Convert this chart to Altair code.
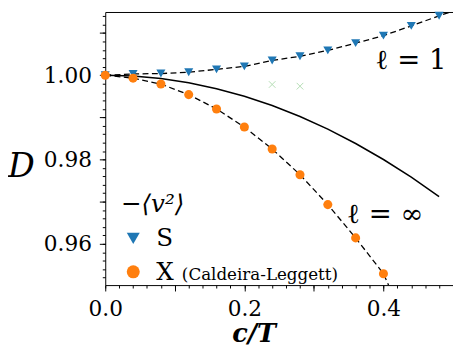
import altair as alt
import pandas as pd

# ---- data ----
S_x = [0.00, 0.04, 0.08, 0.12, 0.16, 0.20, 0.24, 0.28, 0.32, 0.36, 0.40, 0.44, 0.48]
S_y = [1.0000, 1.0003, 1.0004, 1.0007, 1.0014, 1.0021, 1.0035, 1.0045, 1.0059, 1.0076, 1.0094, 1.0117, 1.0141]

X_x = [0.00, 0.04, 0.08, 0.12, 0.16, 0.20, 0.24, 0.28, 0.32, 0.36, 0.40]
X_y = [1.0000, 0.9993, 0.9979, 0.9954, 0.9920, 0.9877, 0.9825, 0.9764, 0.9693, 0.9614, 0.9529]

# dashed fit curves (through the points, continued to the frame edge)
S_fit_x = S_x + [0.50]
S_fit_y = S_y + [1.0152]
X_fit_x = X_x + [0.41]
X_fit_y = X_y + [0.9492]

# solid curve (l = infinity)
L_x = [0.00, 0.04, 0.08, 0.12, 0.16, 0.20, 0.24, 0.28, 0.32, 0.36, 0.40, 0.44, 0.48]
L_y = [1.0000, 0.9998, 0.9992, 0.9982, 0.9968, 0.9950, 0.9928, 0.9902, 0.9872, 0.9838, 0.9800, 0.9758, 0.9712]

# faint green crosses
C_x = [0.24, 0.28]
C_y = [0.9978, 0.9974]

x_major = [0.0, 0.1, 0.2, 0.3, 0.4]
x_minor = [round(i * 0.02, 2) for i in range(26)]
y_major = [0.95, 0.96, 0.97, 0.98, 0.99, 1.00, 1.01]
y_minor = [round(0.950 + i * 0.002, 3) for i in range(33)]

FONT = "DejaVu Serif"

pts = pd.DataFrame({
    "x": S_x + X_x,
    "y": S_y + X_y,
    "series": ["S"] * len(S_x) + ["X"] * len(X_x),
})
fits = pd.DataFrame({
    "x": S_fit_x + X_fit_x,
    "y": S_fit_y + X_fit_y,
    "series": ["S"] * len(S_fit_x) + ["X"] * len(X_fit_x),
})
solid = pd.DataFrame({"x": L_x, "y": L_y})
cross = pd.DataFrame({"x": C_x, "y": C_y})

xs = alt.Scale(domain=[0, 0.5], nice=False, zero=False)
ys = alt.Scale(domain=[0.9502, 1.0150], nice=False, zero=False)

x_main = alt.Axis(
    orient="bottom", values=x_major, tickSize=6,
    labelExpr="abs(datum.value*5 - round(datum.value*5)) < 1e-6 ? format(datum.value, '.1f') : ''",
    labelFont=FONT, labelFontSize=22, labelPadding=8, labelOverlap=False,
    labelFlush=False,
    title="c/T", titleFont=FONT, titleFontSize=26, titleFontStyle="italic",
    titleFontWeight="bold", titleX=151, titleY=49, titleAlign="center",
    titleBaseline="middle", grid=False,
)
y_main = alt.Axis(
    orient="left", values=y_major, tickSize=6,
    labelExpr="abs(datum.value*50 - round(datum.value*50)) < 1e-6 ? format(datum.value, '.2f') : ''",
    labelFont=FONT, labelFontSize=22, labelPadding=8, labelOverlap=False,
    labelFlush=False,
    title="D", titleFont=FONT, titleFontSize=34, titleFontStyle="italic",
    titleFontWeight="normal", titleAngle=0, titleX=-86, titleY=157,
    titleAlign="center", titleBaseline="middle", grid=False,
)
x_min = alt.Axis(orient="bottom", values=x_minor, tickSize=3, labels=False,
                 domain=False, title=None, grid=False)
y_min = alt.Axis(orient="left", values=y_minor, tickSize=3, labels=False,
                 domain=False, title=None, grid=False)
x_top = alt.Axis(orient="top", ticks=False, labels=False, domain=True,
                 title=None, grid=False)

fit_layer = alt.Chart(fits).mark_line(
    color="black", strokeWidth=1.3, strokeDash=[6, 3.5], clip=True
).encode(
    x=alt.X("x:Q", scale=xs, axis=x_min),
    y=alt.Y("y:Q", scale=ys, axis=y_min),
    detail="series:N",
)

solid_layer = alt.Chart(solid).mark_line(
    color="black", strokeWidth=1.5, clip=True
).encode(
    x=alt.X("x:Q", scale=xs, axis=x_top),
    y=alt.Y("y:Q", scale=ys, axis=None),
)

cross_layer = alt.Chart(cross).mark_point(
    shape="M-1,-1L1,1M-1,1L1,-1", filled=False, size=45, strokeWidth=1,
    color="#2ca02c", opacity=0.35
).encode(
    x=alt.X("x:Q", scale=xs, axis=None),
    y=alt.Y("y:Q", scale=ys, axis=None),
)

leg = alt.Legend(
    title="−⟨v²⟩", orient="none", legendX=16, legendY=184,
    titleFont=FONT, titleFontSize=25, titleFontWeight="normal",
    titleFontStyle="italic", titlePadding=9,
    labelFont=FONT, labelFontSize=25, labelOffset=11,
    symbolSize=175, symbolStrokeWidth=0, rowPadding=8,
    padding=0,
)

pt_layer = alt.Chart(pts).mark_point(filled=True, opacity=1, size=85).encode(
    x=alt.X("x:Q", scale=xs, axis=x_main),
    y=alt.Y("y:Q", scale=ys, axis=y_main),
    shape=alt.Shape("series:N", scale=alt.Scale(domain=["S", "X"], range=["triangle-down", "circle"]),
                    legend=leg),
    color=alt.Color("series:N", scale=alt.Scale(domain=["S", "X"], range=["#1f77b4", "#ff7f0e"]),
                    legend=leg),
)

t1 = alt.Chart(pd.DataFrame({"t": ["ℓ = 1"]})).mark_text(
    font=FONT, fontSize=28, align="left", baseline="alphabetic", color="black"
).encode(x=alt.value(275), y=alt.value(58), text="t:N")
t2 = alt.Chart(pd.DataFrame({"t": ["ℓ = ∞"]})).mark_text(
    font=FONT, fontSize=28, align="left", baseline="alphabetic", color="black"
).encode(x=alt.value(246), y=alt.value(215), text="t:N")
t3 = alt.Chart(pd.DataFrame({"t": ["(Caldeira-Leggett)"]})).mark_text(
    font=FONT, fontSize=17, align="left", baseline="alphabetic", color="black"
).encode(x=alt.value(78), y=alt.value(273), text="t:N")

chart = alt.layer(
    fit_layer, solid_layer, cross_layer, pt_layer, t1, t2, t3
).resolve_axis(x="independent", y="independent").properties(
    width=354, height=278,
    autosize=alt.AutoSizeParams(type="none"),
    padding={"left": 99, "top": 1, "right": 0, "bottom": 63},
).configure_view(stroke=None).configure_axis(
    domainColor="black", tickColor="black", labelColor="black", titleColor="black",
    domainWidth=1, tickWidth=1,
).configure_legend(labelColor="black", titleColor="black")

chart.save("out.html", embed_options={"renderer": "svg", "actions": False})
